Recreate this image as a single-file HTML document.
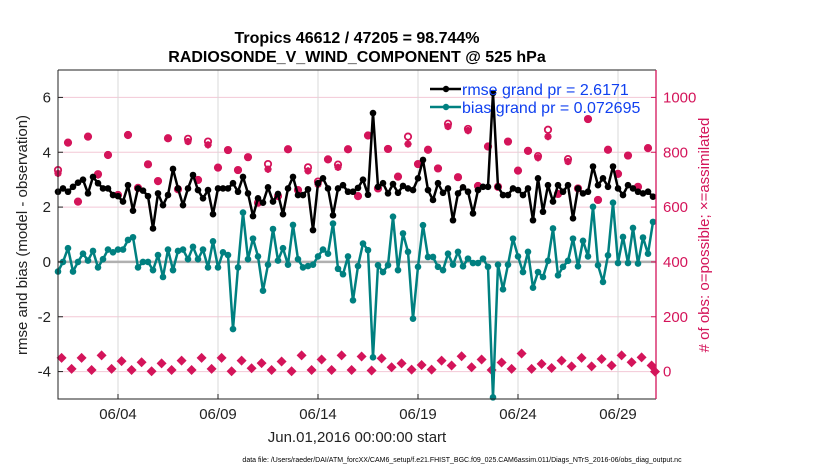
<!DOCTYPE html>
<html><head><meta charset="utf-8"><style>
body{margin:0;background:#fff;width:830px;height:470px;overflow:hidden;font-family:"Liberation Sans",sans-serif}
</style></head><body>
<svg id="chart" width="830" height="470" xmlns="http://www.w3.org/2000/svg" font-family="Liberation Sans, sans-serif">
<g id="grid"></g>
<g id="series"></g>
<g id="axes"></g>
<text x="357" y="43" font-size="16" font-weight="bold" text-anchor="middle">Tropics 46612 / 47205 = 98.744%</text>
<text x="357" y="62" font-size="16" font-weight="bold" text-anchor="middle">RADIOSONDE_V_WIND_COMPONENT @ 525 hPa</text>
<text x="357" y="442" font-size="15" text-anchor="middle" fill="#222">Jun.01,2016 00:00:00 start</text>
<text transform="translate(27,235) rotate(-90)" font-size="15" text-anchor="middle" fill="#222">rmse and bias (model - observation)</text>
<text transform="translate(709,235) rotate(-90)" font-size="15" text-anchor="middle" fill="#d4145a"># of obs: o=possible; ×=assimilated</text>
<text x="462" y="462" font-size="7" text-anchor="middle">data file: /Users/raeder/DAI/ATM_forcXX/CAM6_setup/f.e21.FHIST_BGC.f09_025.CAM6assim.011/Diags_NTrS_2016-06/obs_diag_output.nc</text>
<g>
<line x1="430" y1="89" x2="461" y2="89" stroke="#000" stroke-width="2.5"/><circle cx="446" cy="89" r="3.2" fill="#000"/>
<text x="462" y="95" font-size="16" fill="#1040f0">rmse grand pr = 2.6171</text>
<line x1="430" y1="107" x2="461" y2="107" stroke="#008080" stroke-width="2.5"/><circle cx="446" cy="107" r="3.2" fill="#008080"/>
<text x="462" y="113" font-size="16" fill="#1040f0">bias grand pr = 0.072695</text>
</g>
</svg>
<script>
const rmse=[2.56,2.68,2.56,2.74,2.89,3.0,2.5,3.1,2.87,2.68,2.68,2.44,2.4,2.2,2.8,1.87,2.68,2.6,2.4,1.22,2.5,2.07,2.44,3.39,2.68,2.07,2.68,3.17,2.62,2.32,2.62,1.74,2.68,2.68,2.68,2.87,2.56,3.1,2.5,1.67,2.32,2.16,2.72,2.2,2.48,1.74,2.68,3.1,2.44,2.44,2.65,1.16,2.87,3.05,2.68,1.7,2.68,2.8,2.56,2.56,2.7,3.0,2.45,5.43,2.74,2.87,2.5,2.84,2.52,2.77,2.68,2.62,3.05,3.72,2.62,2.26,2.87,2.52,2.68,1.52,2.5,2.72,2.56,1.77,2.62,2.74,2.74,6.16,2.74,2.44,2.44,2.68,2.62,2.44,2.68,1.52,3.05,1.83,2.8,2.2,2.8,2.56,2.8,1.59,2.68,2.5,2.56,3.48,2.8,3.05,2.74,3.48,2.68,2.44,2.8,2.68,2.56,2.5,2.56,2.38];
const bias=[-0.35,0.0,0.5,-0.35,0.0,0.3,0.05,0.4,-0.2,0.1,0.45,0.35,0.45,0.45,0.8,0.9,-0.2,0.0,0.0,-0.3,0.25,-0.55,0.45,-0.3,0.4,0.45,0.1,0.55,0.1,0.45,-0.2,0.75,-0.2,0.35,0.25,-2.45,-0.2,1.8,0.1,0.85,0.2,-1.05,-0.1,1.2,0.05,0.5,-0.1,1.35,0.1,-0.2,-0.15,-0.1,0.2,0.45,0.3,1.4,-0.25,-0.45,0.2,-1.4,-0.15,0.67,0.43,-3.48,-0.12,-0.37,-0.12,1.65,-0.3,1.04,0.37,-2.07,-0.18,1.34,0.18,0.18,-0.18,-0.3,0.3,-0.1,0.37,-0.16,0.12,-0.04,-0.04,0.12,-0.18,-4.94,-0.1,-1.0,-0.1,0.85,0.2,-0.37,0.37,-0.94,-0.37,-0.55,0.04,1.22,-0.49,-0.18,0.04,0.85,-0.16,0.77,0.2,2.01,-0.12,-0.73,0.24,2.16,-0.04,0.91,-0.04,1.24,-0.06,0.89,0.3,1.46];
const assimUpper=[723,835,620,857,717,790,644,863,668,756,693,851,665,839,699,827,744,808,735,782,616,738,640,811,662,732,683,774,745,811,640,861,668,812,711,830,757,809,741,894,709,879,677,821,674,839,733,805,780,857,648,766,668,921,626,809,721,788,674,815];
const possUpper=[735,835,620,857,720,790,644,863,670,756,695,851,665,849,699,839,744,808,735,782,616,757,640,811,662,745,693,774,755,811,640,861,668,812,711,857,757,809,741,904,709,885,677,821,674,839,733,805,786,882,648,775,668,921,626,809,721,788,674,815];
const countLower=[50,10,50,6,59,10,38,6,34,1,30,6,40,6,50,10,50,1,40,12,31,6,37,1,59,6,44,6,59,6,55,4,48,16,30,7,24,7,40,22,56,16,44,6,33,10,66,10,28,13,40,19,50,19,46,22,59,34,52,22,0];
const xTicks=[3,8,13,18,23,28];
const xTickLabels=["06/04","06/09","06/14","06/19","06/24","06/29"];
const yTicksLeft=[-4,-2,0,2,4,6];
const yTicksRight=[0,200,400,600,800,1000];

const X0=58,X1=656,Y0=70,Y1=399,DAYS=29.9;
const xs=d=>X0+(X1-X0)*d/DAYS;
const ys=v=>Y1-(Y1-Y0)*(v+5)/12;
const yr=c=>ys((c-400)/100);
const NS="http://www.w3.org/2000/svg";
function mk(p,t,a){const e=document.createElementNS(NS,t);for(const k in a)e.setAttribute(k,a[k]);p.appendChild(e);return e;}
const grid=document.getElementById('grid'),ser=document.getElementById('series'),ax=document.getElementById('axes');
const CR="#d4145a";
yTicksLeft.forEach(v=>{if(v===0)return;const l=mk(grid,'line',{x1:X0,x2:X1,y1:ys(v),y2:ys(v),stroke:'#f3c8d6','stroke-width':1});

});
xTicks.forEach(d=>{const l=mk(grid,'line',{x1:xs(d),x2:xs(d),y1:Y0,y2:Y1,stroke:'#d8d8d8','stroke-width':1});

});
const zl=mk(grid,'line',{x1:X0,x2:X1,y1:ys(0),y2:ys(0),stroke:'#b0b0b0','stroke-width':2.5});



function star(g,x,y){const s=3.6;mk(g,'path',{d:`M${x-s} ${y}H${x+s}M${x} ${y-s}V${y+s}M${x-s*.7} ${y-s*.7}L${x+s*.7} ${y+s*.7}M${x-s*.7} ${y+s*.7}L${x+s*.7} ${y-s*.7}`,stroke:CR,'stroke-width':2.2});}
assimUpper.forEach((c,k)=>{const x=xs(k*0.5),g=mk(ser,'g',{});


mk(g,'circle',{cx:x,cy:yr(possUpper[k]),r:3.2,fill:'none',stroke:CR,'stroke-width':1.8});
star(g,x,yr(c));});
countLower.forEach((c,k)=>{const x=xs(Math.min(k*0.5+0.18,29.85)),y=yr(c),g=mk(ser,'g',{});


mk(g,'path',{d:`M${x} ${y-5}L${x+5} ${y}L${x} ${y+5}L${x-5} ${y}Z`,fill:CR});});

function line(arr,col,name){let d='';arr.forEach((v,i)=>{d+=(i?'L':'M')+xs(i*0.25).toFixed(1)+' '+ys(v).toFixed(1);});
const p=mk(ser,'path',{d:d,fill:'none',stroke:col,'stroke-width':2.5,'stroke-linejoin':'round'});


arr.forEach((v,i)=>{const c=mk(ser,'circle',{cx:xs(i*0.25),cy:ys(v),r:3.3,fill:col});

});}
line(rmse,'#000','rmse');
line(bias,'#008080','bias');

const fr=mk(ax,'path',{d:`M${X0} ${Y0}V${Y1}H${X1}M${X0} ${Y0}H${X1}`,fill:'none',stroke:'#222','stroke-width':1});


const ra=mk(ax,'line',{x1:X1,x2:X1,y1:Y0,y2:Y1,stroke:CR,'stroke-width':1.3});


yTicksLeft.forEach(v=>{mk(ax,'line',{x1:X0,x2:X0+5,y1:ys(v),y2:ys(v),stroke:'#222'});
const t=mk(ax,'text',{x:X0-7,y:ys(v)+5,'font-size':15,'text-anchor':'end',fill:'#222'});t.textContent=v;

});
yTicksRight.forEach(c=>{mk(ax,'line',{x1:X1-5,x2:X1,y1:yr(c),y2:yr(c),stroke:CR});
const t=mk(ax,'text',{x:X1+7,y:yr(c)+5,'font-size':15,fill:CR});t.textContent=c;

});
xTicks.forEach((d,i)=>{mk(ax,'line',{x1:xs(d),x2:xs(d),y1:Y1,y2:Y1-5,stroke:'#222'});
const t=mk(ax,'text',{x:xs(d),y:Y1+20,'font-size':15,'text-anchor':'middle',fill:'#222'});t.textContent=xTickLabels[i];

});
</script>
</body></html>
